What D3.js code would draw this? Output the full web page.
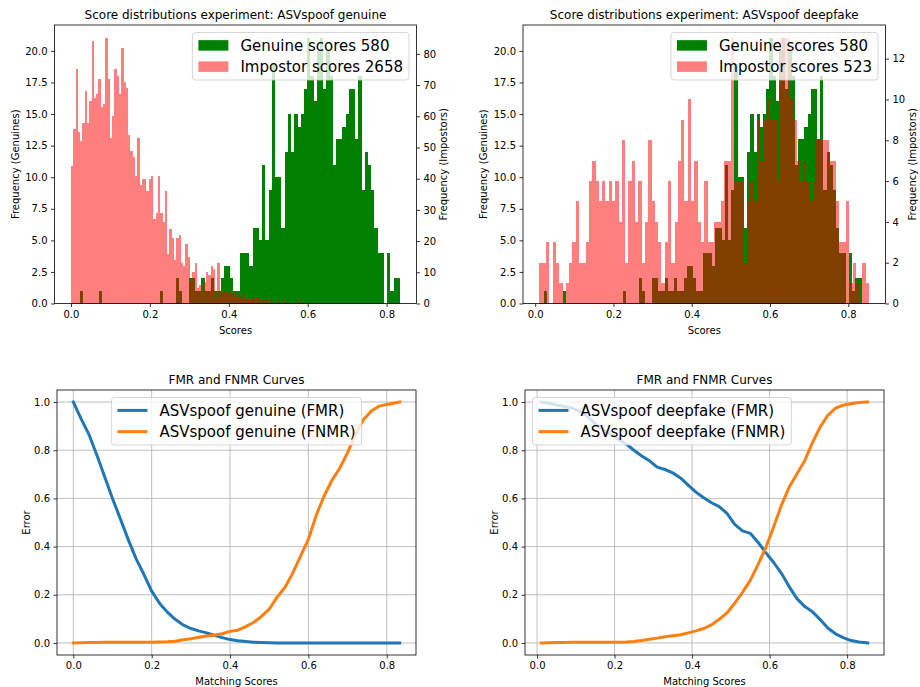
<!DOCTYPE html>
<html><head><meta charset="utf-8">
<script src="https://cdn.jsdelivr.net/npm/d3@7"></script>
<style>
body{margin:0;background:#fff;}
svg text{font-family:"DejaVu Sans",sans-serif;fill:#000;}
</style></head><body>
<svg id="fig" width="920" height="687"></svg>
<script>
// ---------------- DATA ----------------
// Genuine score histogram (100 bins between min and max genuine score), shared by both experiments
const genuineRange = [0.022, 0.834];
const genuineCounts = [
 1,0,0,0,0,0,1,0,0,0, 0,0,0,0,0,0,0,0,0,0,
 0,0,0,0,0,1,0,0,0,0, 2,1,0,0,2,2,1,1,2,1,
 1,2,1,1,2,3,3,2,1,1, 4,4,4,3,6,6,5,11,5,9,
 19,10,10,6,12,15,12,15,14,15, 17,21,18,16,20,21,17,20,18,11,
 13,13,14,15,17,17,13,18,9,12, 11,9,6,4,4,0,4,1,2,2
];
// Impostor histogram, experiment "ASVspoof genuine" (2658 scores, 100 bins)
const impostorGenuineRange = [0.0, 0.58];
const impostorGenuineCounts = [
 44,56,75,55,52,58,68,58,65,84,
 66,67,72,63,64,85,72,53,60,75,
 73,67,82,71,69,54,49,47,41,53,
 38,40,40,36,40,41,27,29,41,29,
 26,36,16,24,21,14,21,22,13,12,
 19,15,7,10,13,5,6,4,7,10,
 9,12,11,2,13,4,3,4,3,4,
 3,4,2,3,2,3,1,2,1,2,
 1,2,1,0,1,1,0,1,0,0,
 1,0,0,1,0,0,0,0,0,1
];
// Impostor histogram, experiment "ASVspoof deepfake" (523 scores, 100 bins)
const impostorDeepfakeRange = [0.011, 0.853];
const impostorDeepfakeCounts = [
 2,2,3,0,3,2,1,0,1,2,
 3,5,2,2,3,6,7,6,5,6,
 5,6,5,6,4,8,2,6,7,4,
 6,2,4,8,5,4,3,1,3,6,
 2,4,7,9,5,10,5,7,4,3,
 6,3,3,4,4,5,7,7,13,6,
 6,6,2,5,6,5,9,7,9,10,
 9,9,6,13,13,13,10,9,7,6,
 7,6,5,6,8,8,8,8,7,7,
 5,3,3,5,1,2,1,0,2,1
];
const genuineTotal = 580;
const impostorGenuineTotal = 2658;
const impostorDeepfakeTotal = 523;

// FMR / FNMR curves
const thresholdsGenuine = [0,0.02,0.04,0.06,0.08,0.10,0.12,0.14,0.16,0.18,0.20,0.22,0.24,0.26,0.28,0.30,0.32,0.34,0.36,0.38,0.40,0.42,0.44,0.46,0.48,0.50,0.52,0.54,0.56,0.58,0.60,0.62,0.64,0.66,0.68,0.70,0.72,0.74,0.76,0.78,0.80,0.82,0.833];
const fmrGenuine = [1.000,0.930,0.865,0.780,0.690,0.600,0.515,0.430,0.350,0.285,0.215,0.165,0.128,0.098,0.075,0.060,0.050,0.042,0.032,0.022,0.014,0.009,0.006,0.003,0.002,0.001,0,0,0,0,0,0,0,0,0,0,0,0,0,0,0,0,0];
const fnmrGenuine = [0.000,0.001,0.002,0.002,0.003,0.003,0.003,0.003,0.003,0.003,0.003,0.004,0.005,0.007,0.013,0.017,0.024,0.029,0.032,0.038,0.048,0.053,0.068,0.085,0.110,0.140,0.190,0.230,0.290,0.360,0.430,0.530,0.610,0.675,0.725,0.790,0.865,0.925,0.962,0.983,0.990,0.996,1.000];

const thresholdsDeepfake = [0.011,0.03,0.05,0.07,0.09,0.11,0.13,0.15,0.17,0.19,0.21,0.23,0.25,0.27,0.29,0.31,0.33,0.35,0.37,0.39,0.41,0.43,0.45,0.47,0.49,0.51,0.53,0.55,0.57,0.59,0.61,0.63,0.65,0.67,0.69,0.71,0.73,0.75,0.77,0.79,0.81,0.83,0.85,0.853];
const fmrDeepfake = [1.000,0.995,0.988,0.982,0.975,0.962,0.940,0.910,0.885,0.865,0.845,0.826,0.800,0.776,0.756,0.730,0.720,0.706,0.685,0.655,0.626,0.603,0.582,0.566,0.538,0.492,0.465,0.455,0.418,0.375,0.335,0.290,0.235,0.185,0.152,0.130,0.098,0.062,0.038,0.022,0.010,0.004,0.001,0.000];
const fnmrDeepfake = [0.000,0.001,0.002,0.002,0.003,0.003,0.003,0.003,0.003,0.003,0.003,0.004,0.006,0.010,0.015,0.020,0.026,0.030,0.034,0.042,0.050,0.060,0.075,0.098,0.125,0.165,0.210,0.260,0.325,0.395,0.480,0.570,0.645,0.700,0.755,0.830,0.895,0.945,0.975,0.987,0.993,0.998,1.000,1.000];

// tick labels
const scoreTicks = [0.0,0.2,0.4,0.6,0.8];
const genuineFreqTicks = [0,2.5,5,7.5,10,12.5,15,17.5,20];
const impostorGenuineTicks = [0,10,20,30,40,50,60,70,80];
const impostorDeepfakeTicks = [0,2,4,6,8,10,12];
const errorTicks = [0,0.2,0.4,0.6,0.8,1.0];

// ---------------- DRAWING ----------------
const svg = d3.select("#fig");
const C = {green:"#008000", red:"#ff0000", blue:"#1f77b4", orange:"#ff7f0e", grid:"#b0b0b0"};

function styleAxis(a){
  a.select(".domain").remove();
  a.selectAll(".tick line").attr("stroke","#000").attr("stroke-width",0.8);
  a.selectAll(".tick text").style("font-size","10px");
}

function paddedDomain(lo, hi){ const m = 0.05*(hi-lo); return [lo-m, hi+m]; }

function legend(g, items, box){
  const fs = 15, pad = 6, hl = 30, htp = 12, rowGap = 21.25;
  const lg = g.append("g");
  const frame = lg.append("rect");
  const texts = items.map(it => lg.append("text").style("font-size", fs+"px").text(it.label));
  const tw = d3.max(texts, t => t.node().getComputedTextLength());
  const w = pad + hl + htp + tw + pad, h = 47.5;
  let x0;
  if (box.align === "right") x0 = box.x - w;
  else if (box.align === "center") x0 = box.x - w/2;
  else x0 = box.x;
  const y0 = box.y;
  frame.attr("x",x0).attr("y",y0).attr("width",w).attr("height",h).attr("rx",3).attr("ry",3)
    .attr("fill","#fff").attr("fill-opacity",0.8).attr("stroke","#cccccc").attr("stroke-opacity",0.8).attr("stroke-width",1);
  items.forEach((it,i) => {
    const cy = y0 + pad + 6.9 + i*rowGap;
    if (it.type === "patch") {
      lg.append("rect").attr("x",x0+pad).attr("y",cy-5.25).attr("width",hl).attr("height",10.5)
        .attr("fill",it.color).attr("fill-opacity",it.opacity);
    } else {
      lg.append("line").attr("x1",x0+pad).attr("x2",x0+pad+hl).attr("y1",cy).attr("y2",cy)
        .attr("stroke",it.color).attr("stroke-width",3);
    }
    texts[i].attr("x", x0+pad+hl+htp).attr("y", cy+5.4);
  });
}

function histPanel(p, cfg){
  const g = svg.append("g");
  const lo = Math.min(genuineRange[0], cfg.iRange[0]);
  const hi = Math.max(genuineRange[1], cfg.iRange[1]);
  const x = d3.scaleLinear().domain(paddedDomain(lo,hi)).range([p.x0,p.x1]);
  const yG = d3.scaleLinear().domain([0, d3.max(genuineCounts)*1.05]).range([p.y1,p.y0]);
  const yI = d3.scaleLinear().domain([0, d3.max(cfg.iCounts)*1.05]).range([p.y1,p.y0]);
  const bins = (range, counts) => counts.map((c,i)=>({
    x0: range[0] + i*(range[1]-range[0])/counts.length,
    x1: range[0] + (i+1)*(range[1]-range[0])/counts.length, c}));
  g.append("g").attr("shape-rendering","crispEdges")
    .selectAll("rect").data(bins(genuineRange, genuineCounts).filter(d=>d.c>0)).join("rect")
    .attr("x",d=>x(d.x0)).attr("width",d=>x(d.x1)-x(d.x0))
    .attr("y",d=>yG(d.c)).attr("height",d=>yG(0)-yG(d.c)).attr("fill",C.green);
  g.append("g").attr("shape-rendering","crispEdges")
    .selectAll("rect").data(bins(cfg.iRange, cfg.iCounts).filter(d=>d.c>0)).join("rect")
    .attr("x",d=>x(d.x0)).attr("width",d=>x(d.x1)-x(d.x0))
    .attr("y",d=>yI(d.c)).attr("height",d=>yI(0)-yI(d.c)).attr("fill",C.red).attr("fill-opacity",0.5);

  g.append("g").attr("transform",`translate(0,${p.y1})`)
    .call(d3.axisBottom(x).tickValues(scoreTicks).tickFormat(d3.format(".1f")).tickSize(3.5).tickPadding(3.5).tickSizeOuter(0))
    .call(styleAxis);
  g.append("g").attr("transform",`translate(${p.x0},0)`)
    .call(d3.axisLeft(yG).tickValues(genuineFreqTicks).tickFormat(d3.format(".1f")).tickSize(3.5).tickPadding(3.5).tickSizeOuter(0))
    .call(styleAxis);
  g.append("g").attr("transform",`translate(${p.x1},0)`)
    .call(d3.axisRight(yI).tickValues(cfg.iTicks).tickFormat(d3.format("d")).tickSize(3.5).tickPadding(3.5).tickSizeOuter(0))
    .call(styleAxis);
  g.append("rect").attr("x",p.x0).attr("y",p.y0).attr("width",p.x1-p.x0).attr("height",p.y1-p.y0)
    .attr("fill","none").attr("stroke","#000").attr("stroke-width",0.8);

  g.append("text").attr("x",(p.x0+p.x1)/2).attr("y",p.y0-6).attr("text-anchor","middle").style("font-size","12px").text(cfg.title);
  g.append("text").attr("x",(p.x0+p.x1)/2).attr("y",p.y1+30).attr("text-anchor","middle").style("font-size","10px").text("Scores");
  g.append("text").attr("transform",`translate(${p.x0-36},${(p.y0+p.y1)/2}) rotate(-90)`).attr("text-anchor","middle").style("font-size","10px").text("Frequency (Genuines)");
  g.append("text").attr("transform",`translate(${p.x1+30},${(p.y0+p.y1)/2}) rotate(-90)`).attr("text-anchor","middle").style("font-size","10px").text("Frequency (Impostors)");

  legend(g, [
    {label:`Genuine scores ${genuineTotal}`, type:"patch", color:C.green, opacity:1},
    {label:`Impostor scores ${cfg.iTotal}`, type:"patch", color:C.red, opacity:0.5}
  ], {x:p.x1-7.5, y:p.y0+7.5, align:"right"});
}

function curvePanel(p, cfg){
  const g = svg.append("g");
  const x = d3.scaleLinear().domain(paddedDomain(d3.min(cfg.t), d3.max(cfg.t))).range([p.x0,p.x1]);
  const y = d3.scaleLinear().domain([-0.05,1.05]).range([p.y1,p.y0]);
  const grid = g.append("g");
  grid.selectAll(".gx").data(scoreTicks).join("line").attr("x1",d=>x(d)).attr("x2",d=>x(d))
    .attr("y1",p.y0).attr("y2",p.y1).attr("stroke",C.grid).attr("stroke-width",0.8);
  grid.selectAll(".gy").data(errorTicks).join("line").attr("y1",d=>y(d)).attr("y2",d=>y(d))
    .attr("x1",p.x0).attr("x2",p.x1).attr("stroke",C.grid).attr("stroke-width",0.8);
  const line = d3.line().x(d=>x(d[0])).y(d=>y(d[1]));
  [[cfg.fmr, C.blue],[cfg.fnmr, C.orange]].forEach(([vals,col]) => {
    g.append("path").attr("d", line(cfg.t.map((t,i)=>[t, vals[i]])))
      .attr("fill","none").attr("stroke",col).attr("stroke-width",3)
      .attr("stroke-linejoin","round").attr("stroke-linecap","square");
  });
  g.append("g").attr("transform",`translate(0,${p.y1})`)
    .call(d3.axisBottom(x).tickValues(scoreTicks).tickFormat(d3.format(".1f")).tickSize(3.5).tickPadding(3.5).tickSizeOuter(0))
    .call(styleAxis);
  g.append("g").attr("transform",`translate(${p.x0},0)`)
    .call(d3.axisLeft(y).tickValues(errorTicks).tickFormat(d3.format(".1f")).tickSize(3.5).tickPadding(3.5).tickSizeOuter(0))
    .call(styleAxis);
  g.append("rect").attr("x",p.x0).attr("y",p.y0).attr("width",p.x1-p.x0).attr("height",p.y1-p.y0)
    .attr("fill","none").attr("stroke","#000").attr("stroke-width",0.8);
  g.append("text").attr("x",(p.x0+p.x1)/2).attr("y",p.y0-6).attr("text-anchor","middle").style("font-size","12px").text("FMR and FNMR Curves");
  g.append("text").attr("x",(p.x0+p.x1)/2).attr("y",p.y1+30).attr("text-anchor","middle").style("font-size","10px").text("Matching Scores");
  g.append("text").attr("transform",`translate(${p.x0-27},${(p.y0+p.y1)/2}) rotate(-90)`).attr("text-anchor","middle").style("font-size","10px").text("Error");
  legend(g, [
    {label:`${cfg.name} (FMR)`, type:"line", color:C.blue},
    {label:`${cfg.name} (FNMR)`, type:"line", color:C.orange}
  ], cfg.legendAlign === "center"
      ? {x:(p.x0+p.x1)/2, y:p.y0+7.5, align:"center"}
      : {x:p.x0+7.5, y:p.y0+7.5, align:"left"});
}

histPanel({x0:54.5,x1:416.5,y0:25,y1:303.5}, {
  title:"Score distributions experiment: ASVspoof genuine",
  iRange:impostorGenuineRange, iCounts:impostorGenuineCounts, iTicks:impostorGenuineTicks, iTotal:impostorGenuineTotal});
histPanel({x0:523,x1:885.5,y0:25,y1:303.5}, {
  title:"Score distributions experiment: ASVspoof deepfake",
  iRange:impostorDeepfakeRange, iCounts:impostorDeepfakeCounts, iTicks:impostorDeepfakeTicks, iTotal:impostorDeepfakeTotal});
curvePanel({x0:57,x1:416,y0:390,y1:655}, {
  name:"ASVspoof genuine", t:thresholdsGenuine, fmr:fmrGenuine, fnmr:fnmrGenuine, legendAlign:"center"});
curvePanel({x0:525,x1:884,y0:390,y1:655}, {
  name:"ASVspoof deepfake", t:thresholdsDeepfake, fmr:fmrDeepfake, fnmr:fnmrDeepfake, legendAlign:"left"});
</script>
</body></html>
